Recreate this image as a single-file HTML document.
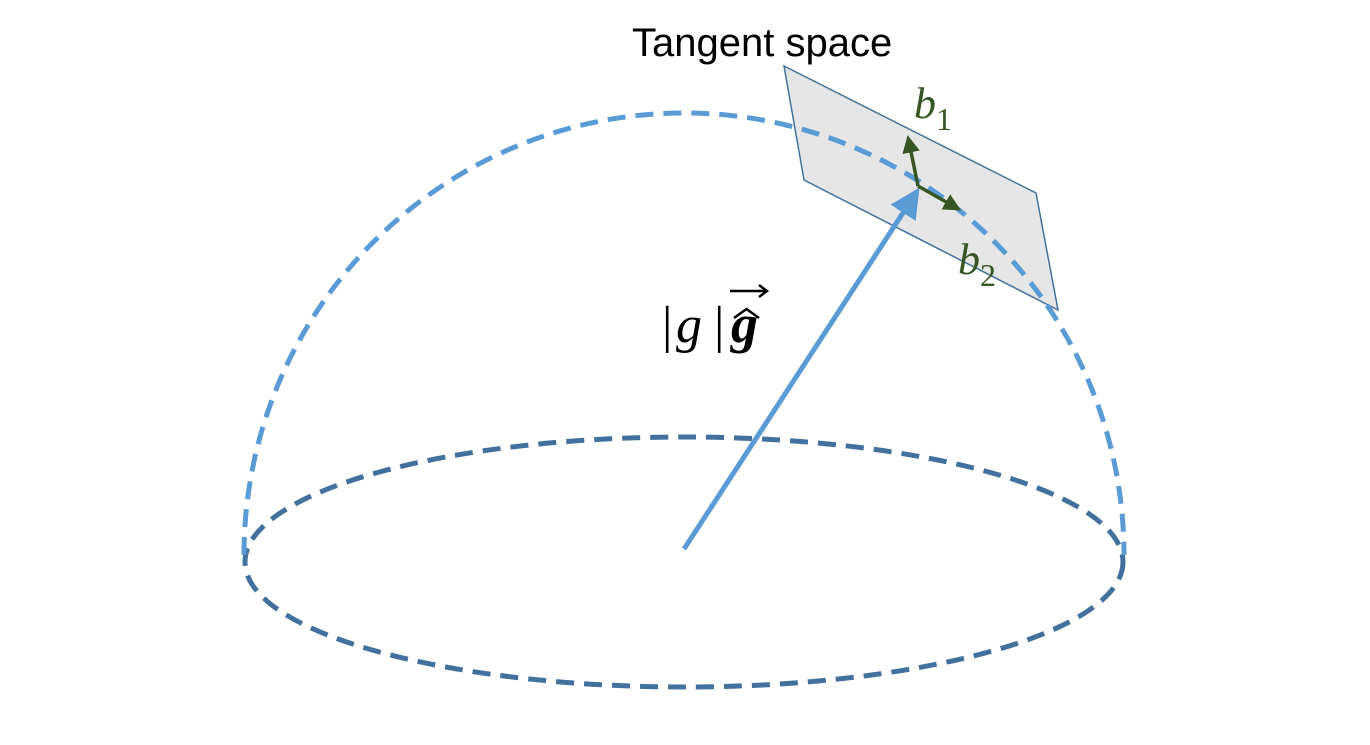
<!DOCTYPE html>
<html><head><meta charset="utf-8"><style>
html,body{margin:0;padding:0;background:#fff;}
svg{display:block;}
</style></head><body>
<svg width="1370" height="745" viewBox="0 0 1370 745" xmlns="http://www.w3.org/2000/svg">
  <defs>
    <marker id="ah" markerWidth="6" markerHeight="6" refX="4" refY="3" orient="auto" markerUnits="strokeWidth">
      <path d="M0,0 L6,3 L0,6 Z" fill="#5b9bd5"/>
    </marker>
    <marker id="gh" markerWidth="5" markerHeight="5" refX="3" refY="2.5" orient="auto" markerUnits="strokeWidth">
      <path d="M0,0 L5,2.5 L0,5 Z" fill="#375623"/>
    </marker>
  </defs>
  <ellipse cx="684" cy="562" rx="439" ry="125" fill="none" stroke="#41719c" stroke-width="5" stroke-dasharray="18 10"/>
  <polygon points="784,66 1036,193 1058,310 804,180" fill="#e6e6e6" stroke="#41719c" stroke-width="1.5"/>
  <path d="M244,555 A440,442 0 0 1 1124,555" fill="none" stroke="#5b9bd5" stroke-width="5" stroke-dasharray="18 10"/>
  <line x1="684" y1="549" x2="914" y2="196" stroke="#5b9bd5" stroke-width="5" marker-end="url(#ah)"/>
  <line x1="918" y1="186" x2="909" y2="142" stroke="#375623" stroke-width="3.5" marker-end="url(#gh)"/>
  <line x1="918" y1="186" x2="955" y2="207" stroke="#375623" stroke-width="3.5" marker-end="url(#gh)"/>
  <text x="632" y="56" font-family="Liberation Sans, sans-serif" font-size="40" fill="#000">Tangent space</text>
  <text x="914" y="118" font-family="Liberation Serif, serif" font-style="italic" font-size="44" fill="#375623">b<tspan font-style="normal" font-size="32" dy="12">1</tspan></text>
  <text x="958" y="274" font-family="Liberation Serif, serif" font-style="italic" font-size="44" fill="#375623">b<tspan font-style="normal" font-size="32" dy="12">2</tspan></text>
  <text y="342" font-family="Liberation Serif, serif" font-size="52" fill="#000"><tspan x="662">|</tspan><tspan x="676" font-style="italic">g</tspan><tspan x="714">|</tspan></text>
  <text x="731" y="342" font-family="Liberation Serif, serif" font-size="54" font-style="italic" font-weight="bold" fill="#000">g</text>
  <path d="M734,318 L746.5,309 L759,318" fill="none" stroke="#000" stroke-width="2.5"/>
  <line x1="730" y1="291" x2="766" y2="291" stroke="#000" stroke-width="2.5"/>
  <path d="M759,285 L767,291 L759,297" fill="none" stroke="#000" stroke-width="2.5"/>
</svg>
</body></html>
